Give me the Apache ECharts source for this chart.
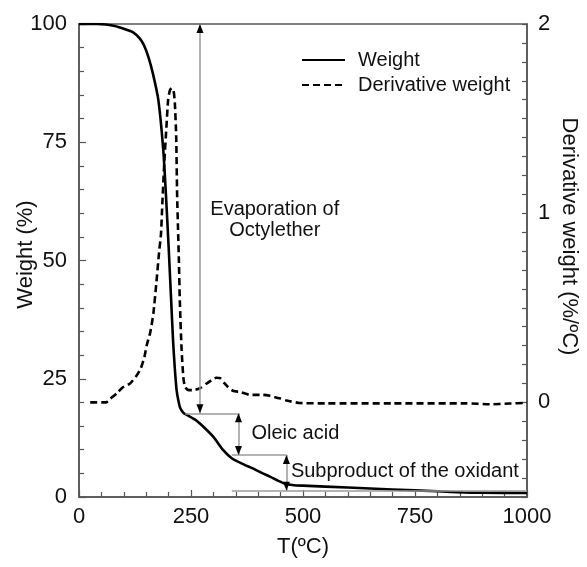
<!DOCTYPE html>
<html>
<head>
<meta charset="utf-8">
<script src="https://cdn.jsdelivr.net/npm/echarts@6/dist/echarts.min.js"></script>
<style>
html,body{margin:0;padding:0;background:#fff;}
#main{width:587px;height:567px;}
</style>
</head>
<body>
<div id="main"></div>
<script>
// ---- Data ----
const tempW = [0, 40, 60, 80, 100, 120, 135, 145, 155, 165, 177, 188, 194, 200, 205, 210, 214, 218, 222, 226, 233, 240, 260, 277, 300, 322, 341, 365, 389, 410, 426, 445, 460, 480, 500, 600, 700, 800, 860, 900, 1000];
const weight = [100, 100, 99.9, 99.6, 99, 98.3, 97, 95.5, 93, 89.5, 84, 73.5, 64, 53, 43, 33, 27, 22.5, 20.3, 18.8, 17.8, 17.4, 16.3, 14.9, 12.7, 9.9, 8.2, 7, 6, 5, 4.3, 3.4, 2.8, 2.5, 2.4, 2.0, 1.6, 1.2, 0.95, 0.9, 0.85];

const tempD = [25, 60, 70, 85, 98, 114, 128, 138, 146, 151, 159, 166, 173, 179, 183, 186, 190, 195, 199, 203, 207, 211, 214, 217, 219, 221, 223, 225, 229, 233, 237, 245, 255, 270, 285, 296, 306, 315, 325, 333, 345, 360, 382, 410, 426, 450, 463, 493, 550, 700, 865, 917, 960, 1000];
const deriv = [0, 0, 0.02, 0.05, 0.08, 0.1, 0.14, 0.18, 0.24, 0.3, 0.37, 0.47, 0.64, 0.8, 0.89, 1.05, 1.25, 1.45, 1.6, 1.65, 1.66, 1.65, 1.58, 1.4, 1.1, 0.92, 0.75, 0.54, 0.28, 0.13, 0.08, 0.065, 0.065, 0.075, 0.1, 0.118, 0.13, 0.128, 0.1, 0.08, 0.06, 0.055, 0.04, 0.04, 0.035, 0.02, 0.01, -0.003, -0.005, -0.005, -0.005, -0.01, -0.006, -0.002];

const xTicks = [0, 250, 500, 750, 1000];
const leftTicks = [0, 25, 50, 75, 100];
const rightTicks = [0, 1, 2];

// annotation values (data units: T, weight %)
const evapArrow = [270, 100, 17.7];        // x, top, bottom
const oleicArrow = [356, 17.7, 8.9];
const subArrow = [463, 8.9, 1.3];
const stepLines = [[237, 356, 17.7], [341, 463, 8.9], [341, 1000, 1.3]]; // x1, x2, y
const annoTexts = [
  {text: 'Evaporation of\nOctylether', x: 437, y: 58.5, pos: 'inside'},
  {text: 'Oleic acid', x: 385, y: 13.4, pos: 'right'},
  {text: 'Subproduct of the oxidant', x: 473, y: 5.3, pos: 'right'}
];

const FONT = 'Liberation Sans, Arial, Helvetica, sans-serif';
const AX = '#555';
const GRAY = '#9a9a9a';

const chart = echarts.init(document.getElementById('main'), null, {renderer: 'canvas'});

const lines = [];
function vline(a) { lines.push([{coord: [a[0], a[1]]}, {coord: [a[0], a[2]]}]); }
vline(evapArrow); vline(oleicArrow); vline(subArrow);
stepLines.forEach(s => lines.push([{coord: [s[0], s[2]]}, {coord: [s[1], s[2]]}]));

const heads = [];
function arrowHeads(a) {
  heads.push({coord: [a[0], a[1]], symbol: 'triangle', symbolSize: [7, 9], symbolOffset: [0, 4.5], symbolRotate: 0, itemStyle: {color: '#000'}, label: {show: false}});
  heads.push({coord: [a[0], a[2]], symbol: 'triangle', symbolSize: [7, 9], symbolOffset: [0, -4.5], symbolRotate: 180, itemStyle: {color: '#000'}, label: {show: false}});
}
arrowHeads(evapArrow); arrowHeads(oleicArrow); arrowHeads(subArrow);
annoTexts.forEach(t => heads.push({
  coord: [t.x, t.y], symbol: 'circle', symbolSize: 0,
  label: {show: true, formatter: t.text, position: t.pos, distance: 0, color: '#111', fontSize: 20, fontFamily: FONT, lineHeight: 21, align: t.pos === 'inside' ? 'center' : 'left'}
}));

const fmtInt = (list) => (v) => {
  const r = Math.round(v);
  return (Math.abs(v - r) < 1e-6 && list.indexOf(r) >= 0) ? String(r) : '';
};

const option = {
  animation: false,
  backgroundColor: '#fff',
  textStyle: {fontFamily: FONT},
  grid: {left: 79, right: 60, top: 24, bottom: 70, containLabel: false, outerBoundsMode: 'none', show: true, borderColor: AX, borderWidth: 1.5, backgroundColor: 'transparent'},
  legend: {
    show: true, orient: 'vertical', left: 296, top: 45, itemWidth: 43, itemHeight: 12, itemGap: 5,
    data: [{name: 'Weight', itemStyle: {opacity: 0}}, {name: 'Derivative weight', itemStyle: {opacity: 0}}],
    itemStyle: {opacity: 0},
    textStyle: {fontSize: 20, color: '#111', fontFamily: FONT, padding: [0, 0, 0, 8]}
  },
  xAxis: {
    type: 'value', min: 0, max: 1000, interval: 250,
    name: 'T(ºC)', nameLocation: 'middle', nameGap: 39, nameMoveOverlap: false,
    nameTextStyle: {fontSize: 22, color: '#111', fontFamily: FONT},
    axisLine: {show: true, lineStyle: {color: AX, width: 1.5}},
    axisTick: {show: true, inside: true, length: 7, lineStyle: {color: AX, width: 1.2}},
    minorTick: {show: true, splitNumber: 5, length: 5, lineStyle: {color: AX, width: 1.2}},
    axisLabel: {fontSize: 22, color: '#111', margin: 9, fontFamily: FONT, formatter: fmtInt(xTicks)},
    splitLine: {show: false}
  },
  yAxis: [
    {
      type: 'value', min: 0, max: 100, interval: 25, position: 'left',
      name: 'Weight (%)', nameLocation: 'middle', nameGap: 42, nameMoveOverlap: false,
      nameTextStyle: {fontSize: 22, color: '#111', fontFamily: FONT, padding: [0, 0, 0, 12]},
      axisLine: {show: true, lineStyle: {color: AX, width: 1.5}},
      axisTick: {show: true, inside: true, length: 7, lineStyle: {color: AX, width: 1.2}},
      minorTick: {show: true, splitNumber: 5, length: 5, lineStyle: {color: AX, width: 1.2}},
      axisLabel: {fontSize: 22, color: '#111', margin: 12, fontFamily: FONT, formatter: fmtInt(leftTicks)},
      splitLine: {show: false}
    },
    {
      type: 'value', min: -0.5, max: 2, interval: 0.5, position: 'right',
      name: 'Derivative weight (%/ºC)', nameLocation: 'middle', nameGap: 31, nameRotate: -90, nameMoveOverlap: false,
      nameTextStyle: {fontSize: 22, color: '#111', fontFamily: FONT, padding: [0, 48, 0, 0]},
      axisLine: {show: true, lineStyle: {color: AX, width: 1.5}},
      axisTick: {show: true, inside: true, length: 5, lineStyle: {color: AX, width: 1.2}},
      minorTick: {show: true, splitNumber: 5, length: 5, lineStyle: {color: AX, width: 1.2}},
      axisLabel: {fontSize: 22, color: '#111', margin: 11, fontFamily: FONT, formatter: fmtInt(rightTicks)},
      splitLine: {show: false}
    }
  ],
  series: [
    {
      name: 'Derivative weight', type: 'line', yAxisIndex: 1, symbol: 'none', smooth: 0.2, z: 2,
      data: tempD.map((t, i) => [t, deriv[i]]),
      lineStyle: {color: '#000', width: 2.6, type: [7, 4]},
      itemStyle: {color: '#000'}
    },
    {
      name: 'Weight', type: 'line', yAxisIndex: 0, symbol: 'none', smooth: 0.2, z: 3,
      data: tempW.map((t, i) => [t, weight[i]]),
      lineStyle: {color: '#000', width: 2.6},
      itemStyle: {color: '#000'},
      markLine: {silent: true, symbol: ['none', 'none'], animation: false, label: {show: false},
        lineStyle: {color: GRAY, width: 1.5, type: 'solid'}, emphasis: {disabled: true}, data: lines},
      markPoint: {silent: true, animation: false, data: heads}
    }
  ]
};
chart.setOption(option);
</script>
</body>
</html>
